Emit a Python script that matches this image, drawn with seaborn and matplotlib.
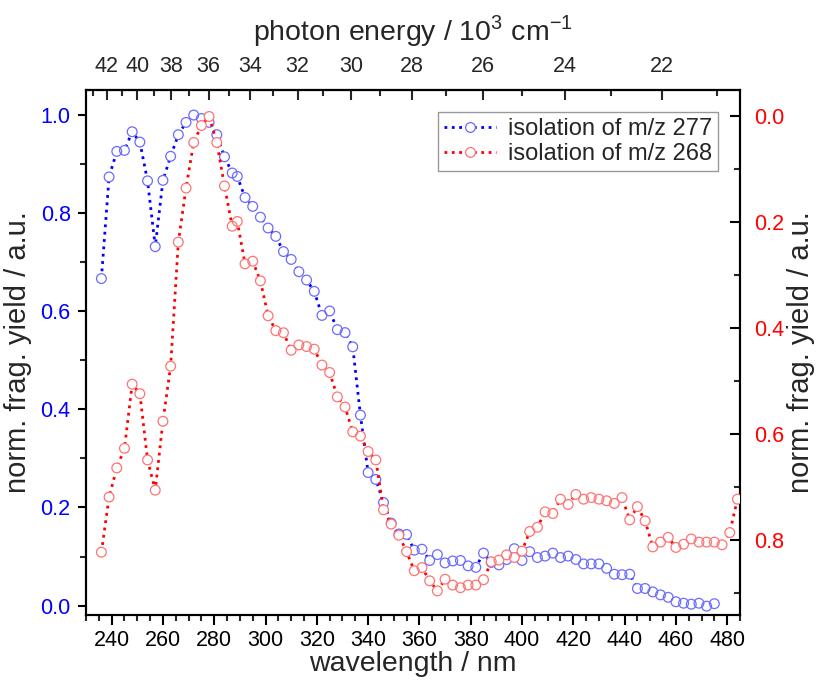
import numpy as np
import pandas as pd
import matplotlib
matplotlib.use("Agg")
import matplotlib.pyplot as plt
import seaborn as sns
from matplotlib.ticker import MultipleLocator, FixedLocator, FormatStrFormatter
from matplotlib.lines import Line2D

sns.set_theme(style="white")
plt.rcParams['font.family'] = ['Liberation Sans', 'DejaVu Sans']
plt.rcParams['mathtext.fontset'] = 'custom'
plt.rcParams['mathtext.rm'] = 'Liberation Sans'

wl_277 = [236, 239, 242, 245, 248, 251, 254, 257, 260, 263, 266, 269, 272, 275, 278,
          281, 284, 287, 289, 292, 295, 298, 301, 304, 307, 310, 313, 316, 319, 322,
          325, 328, 331, 334, 337, 340, 343, 346, 349, 352, 355, 358, 361, 364, 367,
          370, 373, 376, 379, 382, 385, 388, 391, 394, 397, 400, 403, 406, 409, 412,
          415, 418, 421, 424, 427, 430, 433, 436, 439, 442, 445, 448, 451, 454, 457,
          460, 463, 466, 469, 472, 475]
yield_277 = [0.666, 0.873, 0.925, 0.927, 0.965, 0.944, 0.865, 0.731, 0.866, 0.915,
             0.959, 0.984, 0.999, 0.992, 0.984, 0.959, 0.914, 0.881, 0.874, 0.831,
             0.813, 0.791, 0.769, 0.752, 0.721, 0.705, 0.680, 0.663, 0.640, 0.591,
             0.600, 0.562, 0.556, 0.527, 0.388, 0.271, 0.257, 0.210, 0.168, 0.146,
             0.145, 0.113, 0.115, 0.092, 0.104, 0.087, 0.091, 0.092, 0.081, 0.078,
             0.107, 0.088, 0.083, 0.094, 0.116, 0.092, 0.110, 0.098, 0.101, 0.107,
             0.098, 0.101, 0.094, 0.085, 0.085, 0.085, 0.076, 0.064, 0.063, 0.064,
             0.035, 0.035, 0.028, 0.022, 0.017, 0.008, 0.005, 0.003, 0.005, -0.001,
             0.004]

wl_268 = wl_277 + [478, 481, 484]
yield_268 = [0.823, 0.719, 0.664, 0.627, 0.506, 0.524, 0.649, 0.706, 0.576, 0.472,
             0.238, 0.136, 0.050, 0.018, 0.001, 0.050, 0.132, 0.208, 0.199, 0.279,
             0.274, 0.311, 0.377, 0.405, 0.409, 0.442, 0.432, 0.435, 0.440, 0.470,
             0.484, 0.530, 0.549, 0.596, 0.604, 0.633, 0.649, 0.743, 0.770, 0.791,
             0.822, 0.858, 0.852, 0.877, 0.896, 0.874, 0.885, 0.890, 0.885, 0.885,
             0.875, 0.841, 0.838, 0.828, 0.833, 0.821, 0.784, 0.776, 0.747, 0.750,
             0.723, 0.733, 0.714, 0.723, 0.720, 0.723, 0.726, 0.731, 0.720, 0.762,
             0.737, 0.764, 0.813, 0.804, 0.795, 0.814, 0.808, 0.798, 0.804, 0.804,
             0.804, 0.809, 0.786, 0.723]

energy_major = [42, 40, 38, 36, 34, 32, 30, 28, 26, 24, 22]
energy_minor = [43, 41, 39, 37, 35, 33, 31, 29, 27, 25, 23, 21]

label_277 = "isolation of m/z 277"
label_268 = "isolation of m/z 268"

df1 = pd.DataFrame({"wl": wl_277, "y": yield_277})
df2 = pd.DataFrame({"wl": wl_268, "y": yield_268})

fig = plt.figure(figsize=(8.2, 6.85), dpi=100)
ax = fig.add_axes([86/820, 1-615/685, 654/820, 525/685])
ax2 = ax.twinx()

blue = (0, 0, 1)
red = (1, 0, 0)
mk_blue = (0.42, 0.42, 1.0)
mk_red = (1.0, 0.45, 0.45)
ms = 7.0
msz = ms ** 2

# dotted connecting lines
sns.lineplot(data=df1, x="wl", y="y", ax=ax, sort=False, color=blue, linestyle=":",
             linewidth=2.0, legend=False, zorder=2)
sns.lineplot(data=df2, x="wl", y="y", ax=ax2, sort=False, color=red, linestyle=":",
             linewidth=2.0, legend=False, zorder=2)
# white interiors (hide the line within each symbol)
sns.scatterplot(data=df1, x="wl", y="y", ax=ax, marker="o", s=msz, color="white",
                edgecolor="none", linewidth=0, legend=False, zorder=3)
sns.scatterplot(data=df2, x="wl", y="y", ax=ax2, marker="o", s=msz, color="white",
                edgecolor="none", linewidth=0, legend=False, zorder=3)
# hollow symbol outlines
sns.scatterplot(data=df1, x="wl", y="y", ax=ax, marker="o", s=msz, facecolor="none",
                edgecolor=mk_blue, linewidth=0.9, legend=False, zorder=4)
sns.scatterplot(data=df2, x="wl", y="y", ax=ax2, marker="o", s=msz, facecolor="none",
                edgecolor=mk_red, linewidth=0.9, legend=False, zorder=4)

ax.set_xlim(230, 485)
ax.set_ylim(-0.019, 1.05)
ax2.set_ylim(0.9415, -0.049)

fs_tick = 15.5
fs_lab = 20.5
fs_ylab = 21

ax.xaxis.set_major_locator(MultipleLocator(20))
ax.xaxis.set_minor_locator(MultipleLocator(5))
ax.yaxis.set_major_locator(FixedLocator([0.0, 0.2, 0.4, 0.6, 0.8, 1.0]))
ax.yaxis.set_minor_locator(FixedLocator([0.1, 0.3, 0.5, 0.7, 0.9]))
ax.yaxis.set_major_formatter(FormatStrFormatter('%.1f'))
ax2.yaxis.set_major_locator(FixedLocator([0.0, 0.2, 0.4, 0.6, 0.8]))
ax2.yaxis.set_minor_locator(FixedLocator([0.1, 0.3, 0.5, 0.7, 0.9]))
ax2.yaxis.set_major_formatter(FormatStrFormatter('%.1f'))

ax.tick_params(axis='x', which='major', direction='out', length=7, width=1.5,
               labelsize=fs_tick, colors='black', bottom=True, top=False, pad=4)
ax.tick_params(axis='x', which='minor', direction='out', length=4, width=1.5, bottom=True, top=False)
ax.tick_params(axis='y', which='major', direction='out', length=6, width=1.5,
               labelsize=fs_tick, left=True, right=False, labelcolor='blue', color='black', pad=5)
ax.tick_params(axis='y', which='minor', direction='out', length=4, width=1.5, left=True, right=False)
ax2.tick_params(axis='y', which='major', direction='in', length=7, width=1.5,
                labelsize=fs_tick, right=True, left=False, labelcolor='red', color='black', pad=10)
ax2.tick_params(axis='y', which='minor', direction='in', length=4, width=1.5, right=True, left=False)

secax = ax.secondary_xaxis('top', functions=(lambda x: 1e4 / np.asarray(x, float),
                                            lambda x: 1e4 / np.asarray(x, float)))
secax.xaxis.set_major_locator(FixedLocator(energy_major))
secax.xaxis.set_minor_locator(FixedLocator(energy_minor))
secax.xaxis.set_major_formatter(FormatStrFormatter('%d'))
secax.tick_params(axis='x', which='major', direction='in', length=7, width=1.5,
                  labelsize=fs_tick, pad=9)
secax.tick_params(axis='x', which='minor', direction='in', length=4, width=1.5)
secax.set_xlabel("photon energy / 10$^3$ cm$^{-1}$", fontsize=fs_lab, labelpad=12)

ax.set_xlabel("wavelength / nm", fontsize=fs_lab, labelpad=0)
ax.set_ylabel("norm. frag. yield / a.u.", fontsize=fs_ylab, labelpad=6)
ax2.set_ylabel("norm. frag. yield / a.u.", fontsize=fs_ylab, labelpad=2)

for a in (ax, ax2):
    for s in a.spines.values():
        s.set_linewidth(1.5)
        s.set_color('black')
for s in secax.spines.values():
    s.set_linewidth(1.5)

handles = [
    Line2D([], [], color=blue, linestyle=":", linewidth=2.0, marker="o", markersize=ms,
           markerfacecolor="white", markeredgecolor=mk_blue, markeredgewidth=0.9),
    Line2D([], [], color=red, linestyle=":", linewidth=2.0, marker="o", markersize=ms,
           markerfacecolor="white", markeredgecolor=mk_red, markeredgewidth=0.9),
]
leg = ax2.legend(handles, [label_277, label_268], loc='upper right',
                 bbox_to_anchor=(1 - 22/654, 1 - 22/525), fontsize=17,
                 frameon=True, fancybox=False, edgecolor='gray', borderpad=0.25,
                 handlelength=2.2, handletextpad=0.5, labelspacing=0.15, borderaxespad=0)
leg.get_frame().set_linewidth(1.0)

fig.savefig("out.png", dpi=100)
